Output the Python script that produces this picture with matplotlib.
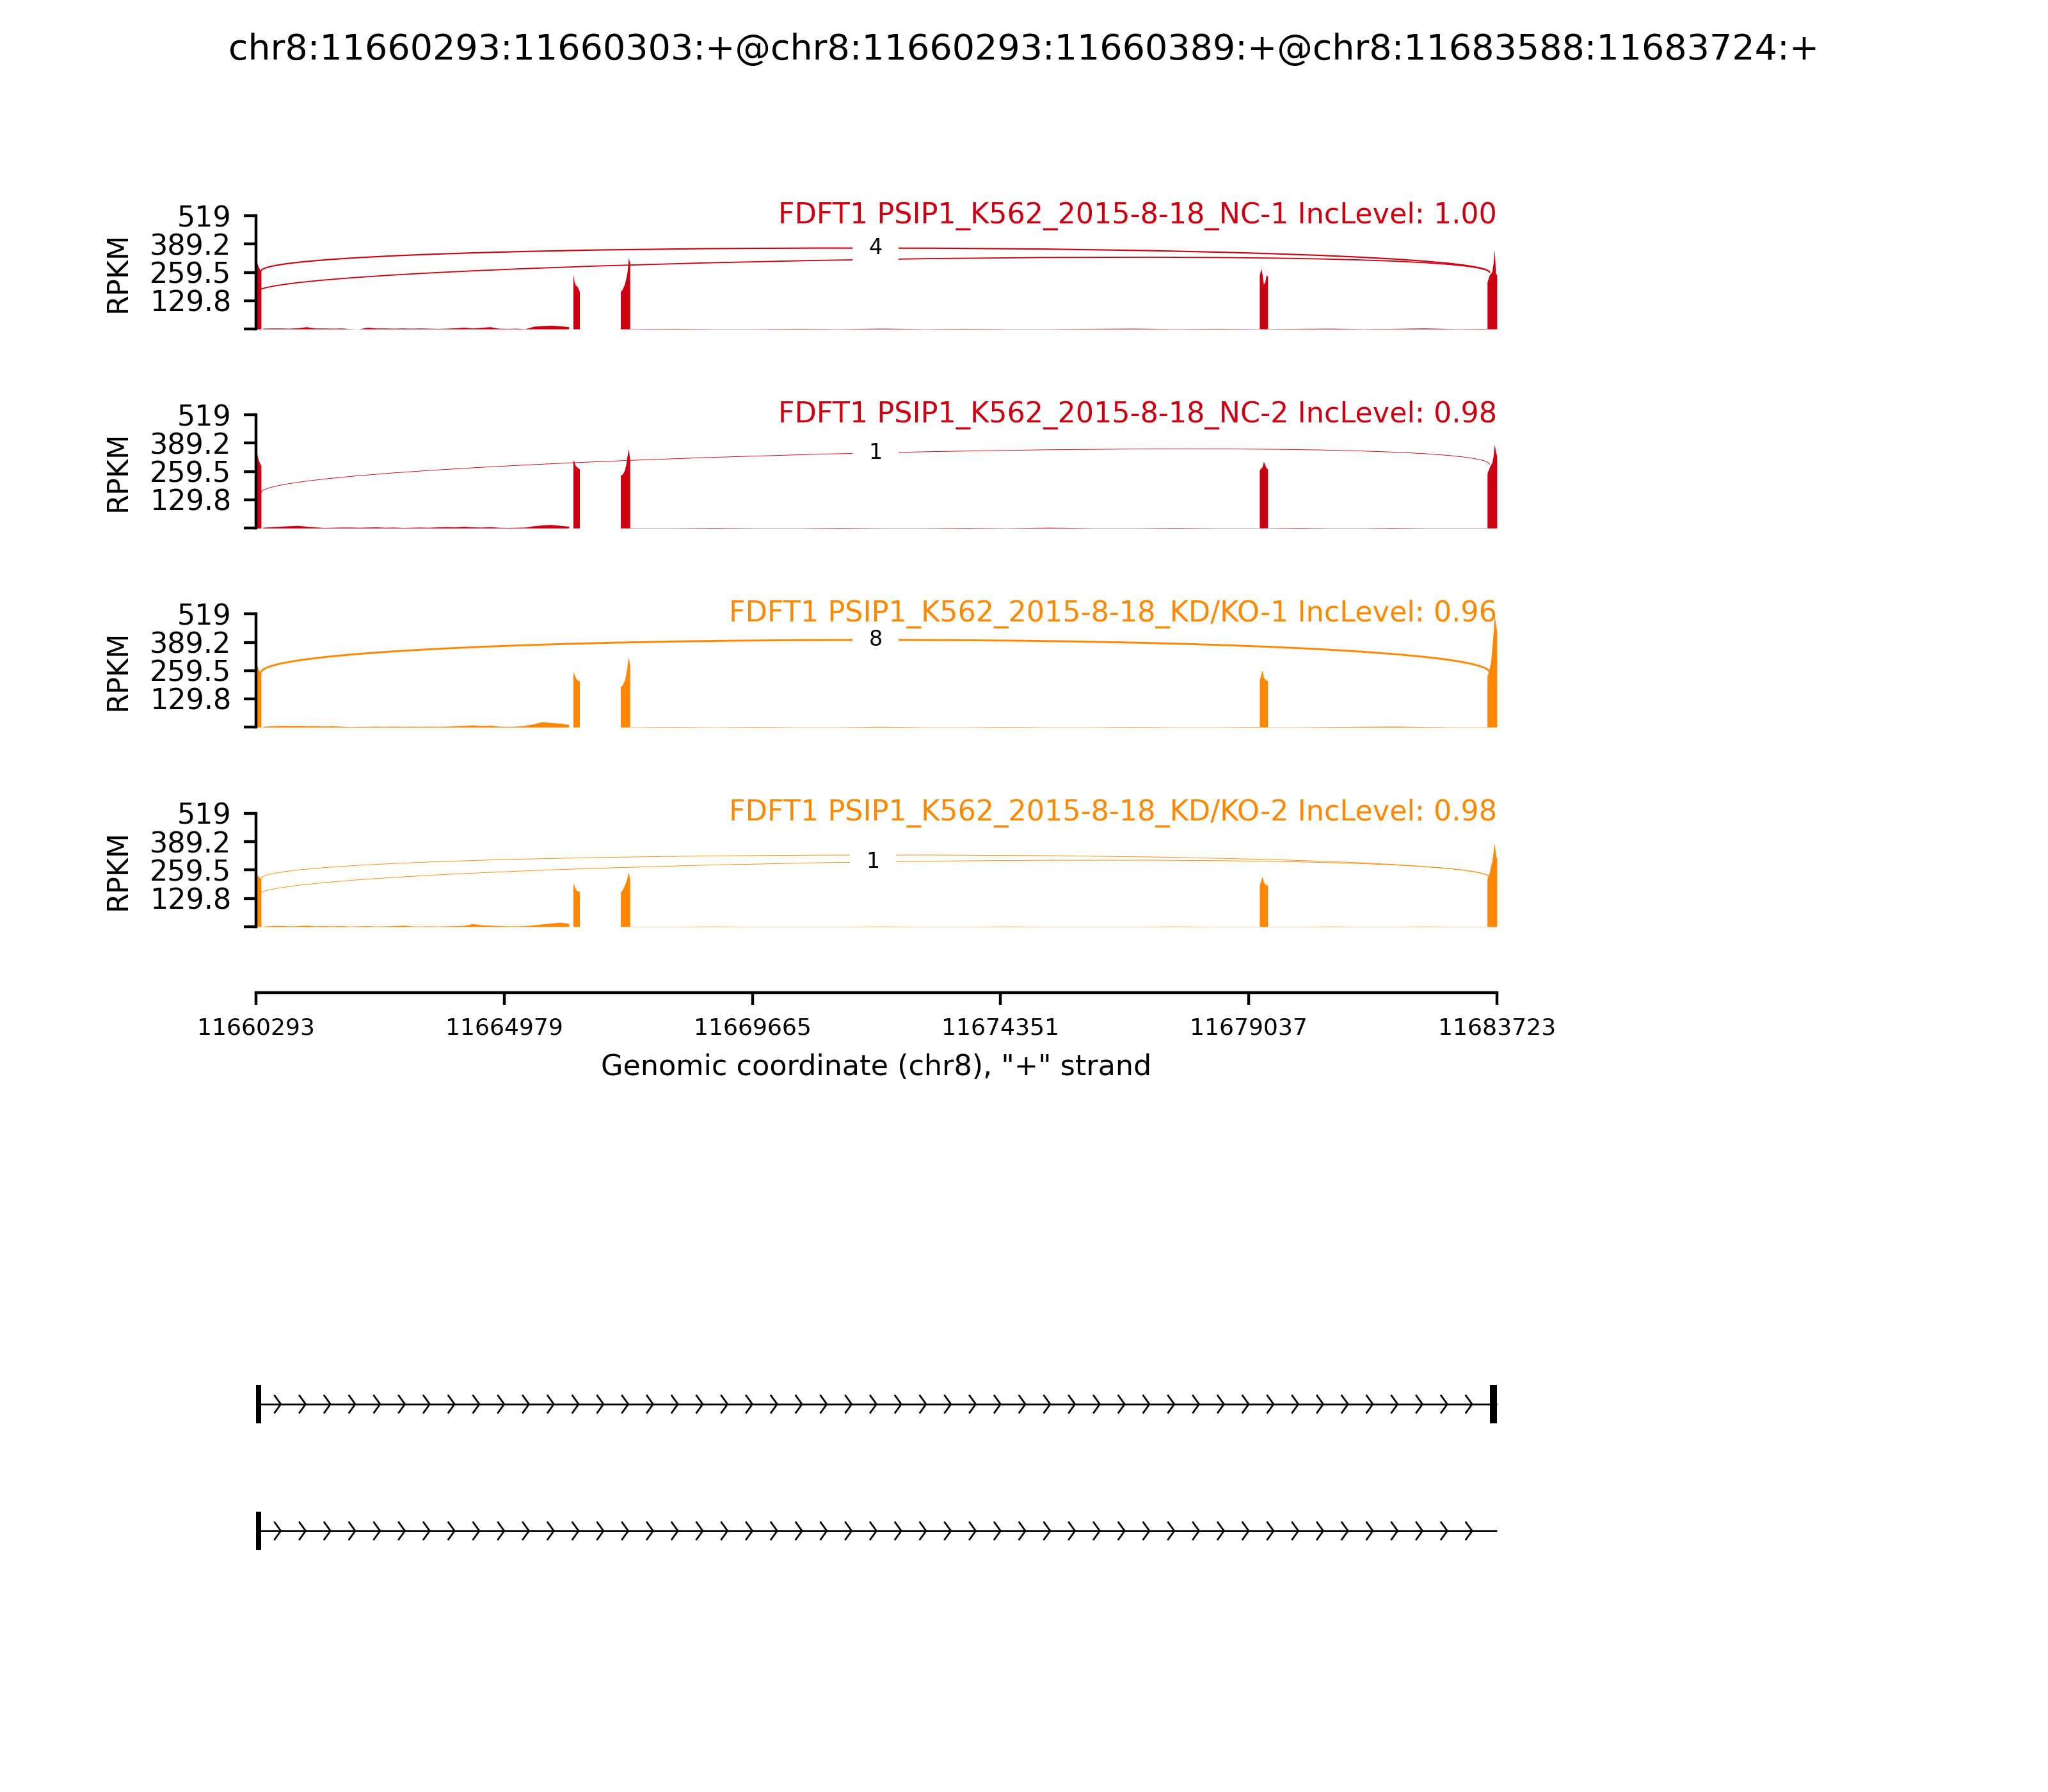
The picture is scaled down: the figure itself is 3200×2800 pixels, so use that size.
import numpy as np
import matplotlib
matplotlib.use("Agg")
import matplotlib.pyplot as plt
from matplotlib.path import Path
from matplotlib.patches import PathPatch, Rectangle

TITLE = "chr8:11660293:11660303:+@chr8:11660293:11660389:+@chr8:11683588:11683724:+"

# ---- samples ----
sample_labels = ["FDFT1 PSIP1_K562_2015-8-18_NC-1 IncLevel: 1.00",
                 "FDFT1 PSIP1_K562_2015-8-18_NC-2 IncLevel: 0.98",
                 "FDFT1 PSIP1_K562_2015-8-18_KD/KO-1 IncLevel: 0.96",
                 "FDFT1 PSIP1_K562_2015-8-18_KD/KO-2 IncLevel: 0.98"]
sample_colors = ["#CC0011", "#CC0011", "#FF8800", "#FF8800"]

# covered regions (genomic)
exon_regions = [(11660293, 11660389), (11666280, 11666402), (11667175, 11667353),
                (11679240, 11679396), (11683540, 11683723)]
intron1_region = (11660420, 11666200)
tail_a_region = (11667360, 11679230)
tail_b_region = (11679400, 11683530)

# RPKM along each exon
e1_cov = [[270, 303, 290, 280, 270, 264],
          [280, 340, 320, 305, 295, 285],
          [250, 284, 270, 260, 255, 250],
          [225, 240, 232, 226, 222, 220]]
e2_cov = [[250, 215, 200, 198, 185, 172],
          [315, 300, 285, 280, 275, 270],
          [255, 240, 225, 218, 215, 210],
          [201, 185, 172, 165, 162, 160]]
e3_cov = [[172, 178, 190, 205, 230, 260, 327, 300],
          [241, 245, 252, 265, 290, 330, 364, 310],
          [186, 190, 200, 215, 240, 280, 323, 280],
          [157, 165, 175, 190, 205, 225, 250, 215]]
e4_cov = [[244, 278, 250, 205, 215, 249, 240],
          [265, 275, 280, 305, 290, 275, 270],
          [215, 240, 262, 230, 220, 215, 212],
          [191, 210, 230, 205, 195, 191, 188]]
e5_cov = [[215, 234, 249, 255, 264, 300, 364, 254, 249],
          [251, 265, 280, 291, 300, 330, 384, 350, 330],
          [235, 250, 274, 300, 362, 430, 514, 470, 440],
          [220, 235, 250, 279, 300, 340, 385, 330, 310]]

# low intronic signal
intron1_cov = [[3, 4, 4, 3, 5, 10, 4, 4, 3, 4, 1, 0, 8, 4, 4, 3, 4, 3, 4, 3, 2, 3, 5, 8, 4, 7, 10, 3, 2, 3, 1, 12, 15, 17, 14, 10],
               [3, 6, 8, 10, 12, 8, 5, 2, 3, 4, 4, 3, 4, 5, 3, 4, 2, 3, 4, 3, 5, 6, 5, 8, 5, 4, 6, 3, 2, 3, 4, 10, 14, 16, 12, 8],
               [3, 6, 8, 7, 8, 6, 7, 5, 6, 4, 2, 3, 3, 4, 3, 4, 3, 4, 3, 4, 3, 4, 6, 8, 10, 7, 9, 4, 3, 4, 8, 15, 25, 20, 18, 12],
               [2, 4, 5, 3, 4, 6, 3, 4, 3, 4, 2, 3, 4, 2, 3, 4, 6, 3, 2, 3, 2, 3, 4, 5, 13, 8, 6, 4, 3, 3, 4, 8, 12, 16, 20, 14]]
tail_a_cov = [[1, 2, 1, 1, 2, 1, 3, 1, 2, 1, 1, 2, 3, 1, 2, 1],
              [1, 1, 2, 1, 1, 2, 1, 1, 2, 1, 3, 1, 1, 2, 1, 1],
              [1, 2, 1, 2, 1, 1, 3, 1, 1, 2, 1, 1, 2, 1, 1, 2],
              [1, 1, 2, 1, 1, 1, 2, 1, 1, 2, 1, 1, 1, 2, 1, 1]]
tail_b_cov = [[1, 2, 3, 1, 2, 4, 1, 2],
              [1, 2, 1, 1, 2, 1, 1, 1],
              [1, 1, 2, 3, 4, 2, 1, 1],
              [1, 1, 2, 1, 1, 2, 1, 1]]

# junctions per sample (last one in each list carries the visible count label)
jxn_left = [[11660303, 11660389], [11660389], [11660389], [11660389, 11660303]]
jxn_right = [[11683588, 11683588], [11683588], [11683588], [11683588, 11683588]]
jxn_count = [[3, 4], [1], [8], [1, 1]]
jxn_left_dens = [[168, 265], [162], [250], [220, 142]]
jxn_right_dens = [[258, 258], [291], [250], [225, 225]]
jxn_lift = [[141, 146], [158], [200], [141, 151]]

y_ticks = [0, 129.8, 259.5, 389.2, 519]
y_ticklabels = ["", "129.8", "259.5", "389.2", "519"]
x_ticks = [11660293, 11664979, 11669665, 11674351, 11679037, 11683723]
x_lim = (11660293, 11683723)

# gene models
iso_exons = [[(11660293, 11660389), (11683588, 11683724)],
             [(11660293, 11660389)]]
iso_span = [(11660293, 11683724), (11660293, 11683724)]

fig = plt.figure(figsize=(8, 7), dpi=400)
fig.text(0.5, 1 - 78 / 2800, TITLE, ha="center", va="center", fontsize=10)

ax_left, ax_w, ax_h = 0.125, 0.6059, 0.0632
bottoms = [0.8164, 0.7053, 0.5942, 0.4829]


def cover_xy(i):
    segs = [(exon_regions[0], e1_cov[i]), (intron1_region, intron1_cov[i]),
            (exon_regions[1], e2_cov[i]), (exon_regions[2], e3_cov[i]),
            (tail_a_region, tail_a_cov[i]), (exon_regions[3], e4_cov[i]),
            (tail_b_region, tail_b_cov[i]), (exon_regions[4], e5_cov[i])]
    xs, ys = [], []
    for (s, e), vals in segs:
        px = np.linspace(s, e, len(vals))
        xs += [s] + list(px) + [e]
        ys += [0] + list(vals) + [0]
    return np.array(xs, float), np.array(ys, float)


def bez(p0, p1, p2, p3, t=0.5):
    return (1 - t) ** 3 * p0 + 3 * (1 - t) ** 2 * t * p1 + 3 * (1 - t) * t ** 2 * p2 + t ** 3 * p3


for i in range(4):
    ax = fig.add_axes([ax_left, bottoms[i], ax_w, ax_h])
    col = sample_colors[i]
    x, y = cover_xy(i)
    ax.fill_between(x, y, 0, color=col, lw=0)

    nj = len(jxn_left[i])
    for k in range(nj):
        s1, s2 = jxn_left[i][k], jxn_right[i][k]
        L, R, h = jxn_left_dens[i][k], jxn_right_dens[i][k], jxn_lift[i][k]
        pts = [(s1, L), (s1, L + h), (s2, R + h), (s2, R)]
        path = Path(pts, [Path.MOVETO, Path.CURVE4, Path.CURVE4, Path.CURVE4])
        ax.add_patch(PathPatch(path, ec=col, fc="none",
                               lw=0.55 * np.log10(jxn_count[i][k] + 1)))
        if k == nj - 1:
            mx = bez(s1, s1, s2, s2)
            my = bez(L, L + h, R + h, R)
            ax.text(mx, my, str(jxn_count[i][k]), fontsize=6, ha="center", va="center",
                    backgroundcolor="w")

    ax.set_xlim(*x_lim)
    ax.set_ylim(0, 519)
    ax.set_yticks(y_ticks)
    ax.set_yticklabels(y_ticklabels, fontsize=8)
    ax.set_ylabel("RPKM", fontsize=8, labelpad=5)
    for sp in ["top", "right"]:
        ax.spines[sp].set_visible(False)
    ax.text(x_lim[1], 519, sample_labels[i], ha="right", va="center",
            fontsize=8, color=col)
    if i < 3:
        ax.spines["bottom"].set_visible(False)
        ax.set_xticks([])
    else:
        ax.spines["bottom"].set_position(("outward", 18.5))
        ax.set_xticks(x_ticks)
        ax.set_xticklabels([str(v) for v in x_ticks], fontsize=6.5)
        ax.set_xlabel('Genomic coordinate (chr8), "+" strand', fontsize=8, labelpad=4)

# gene structure
gax = fig.add_axes([ax_left, 1 - 2500 / 2800, ax_w, 400 / 2800])
gax.set_xlim(*x_lim)
gax.set_ylim(0, 400)
gax.axis("off")
track_y = [306, 108]
half_h = 30
for j in range(len(iso_exons)):
    yy = track_y[j]
    s, e = iso_span[j]
    gax.plot([s, e], [yy, yy], color="k", lw=0.5, solid_capstyle="butt", clip_on=False)
    for k in range(1, 50):
        tip = s + k * (e - s) / 50
        gax.plot([tip - 116, tip, tip - 116], [yy + 13.3, yy, yy - 13.3],
                 color="k", lw=0.5, clip_on=False)
    for a, b in iso_exons[j]:
        gax.add_patch(Rectangle((a, yy - half_h), b - a, 2 * half_h,
                                fc="k", ec="none", clip_on=False))

fig.savefig("out.png", dpi=400, facecolor="white")
